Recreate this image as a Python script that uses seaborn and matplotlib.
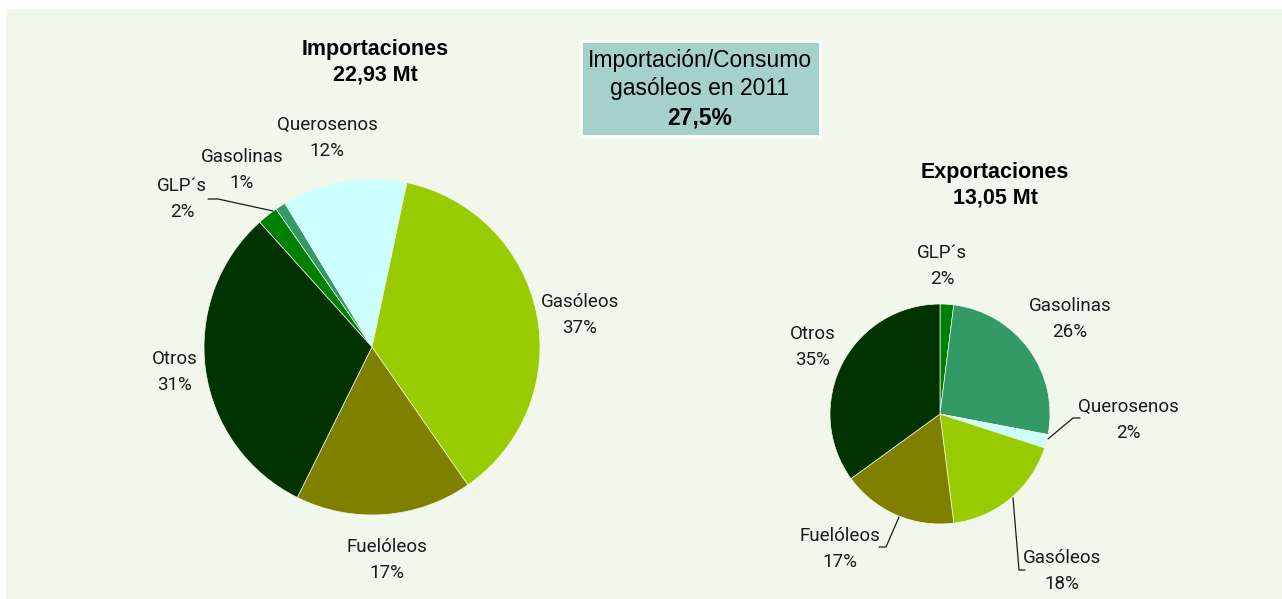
import numpy as np
import matplotlib.pyplot as plt
import seaborn as sns
from matplotlib.patches import Rectangle

W, H = 1282, 599

productos = ['GLP´s', 'Gasolinas', 'Querosenos', 'Gasóleos', 'Fuelóleos', 'Otros']
importaciones = [2, 1, 12, 37, 17, 31]
exportaciones = [2, 26, 2, 18, 17, 35]
titulo_imp = 'Importaciones\n22,93 Mt'
titulo_exp = 'Exportaciones\n13,05 Mt'
caja_texto = ['Importación/Consumo', 'gasóleos en 2011']
caja_valor = '27,5%'

colores = sns.color_palette(['#008000', '#339966', '#ccffff', '#99cc00', '#808000', '#003300'])

sns.set_style('white')
plt.rcParams['font.family'] = ['Liberation Sans', 'DejaVu Sans']
plt.rcParams['text.color'] = 'black'

fig = plt.figure(figsize=(W / 100, H / 100), dpi=100)
fig.patch.set_facecolor('white')
ax = fig.add_axes([0, 0, 1, 1])
ax.set_xlim(0, W)
ax.set_ylim(0, H)
ax.set_aspect('equal')
ax.axis('off')

def Y(y):
    return H - y

# panel background
ax.add_patch(Rectangle((6, 0), W - 6, H - 9, facecolor='#f2f7ec', edgecolor='none', zorder=0))

wp = dict(edgecolor='#f2f7ec', linewidth=0.5)

# importaciones pie
ax.pie(importaciones, colors=colores, startangle=132, counterclock=False,
       center=(372, Y(347)), radius=168, wedgeprops=wp, frame=True)
# exportaciones pie
ax.pie(exportaciones, colors=colores, startangle=90, counterclock=False,
       center=(940, Y(414)), radius=110, wedgeprops=wp, frame=True)
ax.set_xlim(0, W)
ax.set_ylim(0, H)
ax.axis('off')

pos_imp = [(182, 199), (242, 170), (327, 138), (580, 315), (387, 560), (175, 372)]
pos_exp = [(942, 266), (1070, 319), (1128, 420), (1062, 571), (840, 549), (813, 347)]

lab_kw = dict(ha='center', va='center', fontsize=13.5, linespacing=1.6,
              color='#1a1a1a', family=['Roboto', 'DejaVu Sans'])
for p, v, (x, y) in zip(productos, importaciones, pos_imp):
    ax.text(x, Y(y), f'{p}\n{v}%', **lab_kw)
for p, v, (x, y) in zip(productos, exportaciones, pos_exp):
    ax.text(x, Y(y), f'{p}\n{v}%', **lab_kw)

# leader lines
lineas = [
    [(208, 199), (218, 199), (273, 211)],
    [(1080, 418), (1073, 418), (1048, 439)],
    [(1013, 498), (1019, 570), (1025, 570)],
    [(899, 517), (886, 547), (879, 547)],
]
for ln in lineas:
    xs = [a for a, b in ln]
    ys = [Y(b) for a, b in ln]
    ax.plot(xs, ys, color='#1a1a1a', lw=0.9)

# titles
ax.text(375, Y(62), titulo_imp, ha='center', va='center', fontsize=15.5,
        fontweight='bold', linespacing=1.3)
ax.text(995, Y(185), titulo_exp, ha='center', va='center', fontsize=15.5,
        fontweight='bold', linespacing=1.3)

# info box
ax.add_patch(Rectangle((581, Y(136)), 239, 95, facecolor='#a6d1c9',
                       edgecolor='white', linewidth=2, zorder=3))
ax.text(700, Y(61), caja_texto[0], ha='center', va='center', fontsize=16.5, zorder=4)
ax.text(700, Y(89), caja_texto[1], ha='center', va='center', fontsize=16.5, zorder=4)
ax.text(700, Y(118), caja_valor, ha='center', va='center', fontsize=16.5,
        fontweight='bold', zorder=4)

fig.savefig('out.png', dpi=100)
